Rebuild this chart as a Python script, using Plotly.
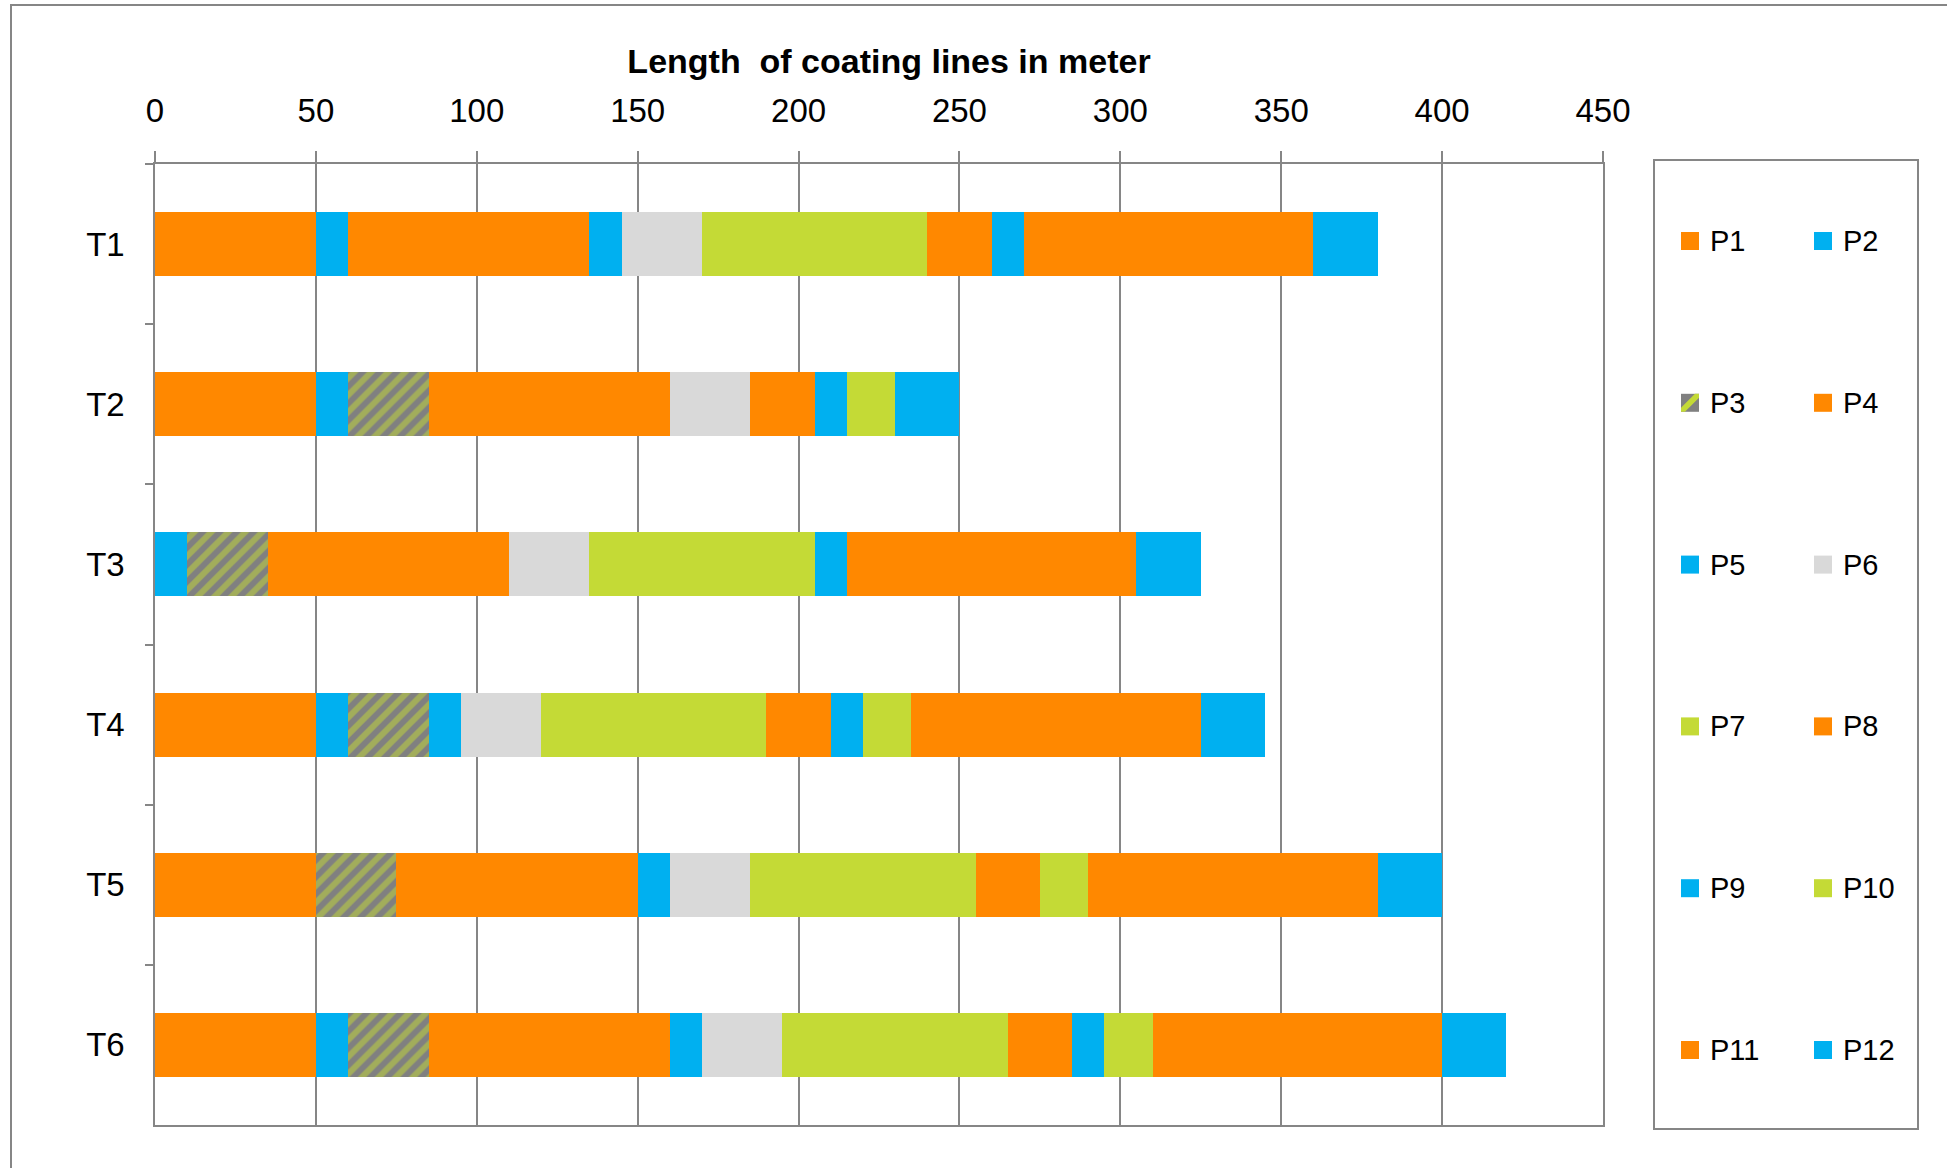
import plotly.graph_objects as go

# Coating line segments per track (metres), stacked left to right P1..P12
tracks = ["T1", "T2", "T3", "T4", "T5", "T6"]
segments = ["P1", "P2", "P3", "P4", "P5", "P6", "P7", "P8", "P9", "P10", "P11", "P12"]

p1 = [50, 50, 0, 50, 50, 50]
p2 = [10, 10, 10, 10, 0, 10]
p3 = [0, 25, 25, 25, 25, 25]
p4 = [75, 75, 75, 0, 75, 75]
p5 = [10, 0, 0, 10, 10, 10]
p6 = [25, 25, 25, 25, 25, 25]
p7 = [70, 0, 70, 70, 70, 70]
p8 = [20, 20, 0, 20, 20, 20]
p9 = [10, 10, 10, 10, 0, 10]
p10 = [0, 15, 0, 15, 15, 15]
p11 = [90, 0, 90, 90, 90, 90]
p12 = [20, 20, 20, 20, 20, 20]
values = [p1, p2, p3, p4, p5, p6, p7, p8, p9, p10, p11, p12]

x_ticks = [0, 50, 100, 150, 200, 250, 300, 350, 400, 450]

ORANGE = "#FF8800"
BLUE = "#00B0F0"
GREY = "#D9D9D9"
GREEN = "#C4DA36"
HATCH = "#808080"
AXIS = "#868686"
colors = [ORANGE, BLUE, None, ORANGE, BLUE, GREY, GREEN, ORANGE, BLUE, GREEN, ORANGE, BLUE]

FONT = "Liberation Sans, Arial, sans-serif"
W, H = 1947, 1168
ML, MR, MT, MB = 155, W - 1603, 164, H - 1125
PW, PH = W - ML - MR, H - MT - MB


def px(x):
    return (x - ML) / PW


def py(y):
    return (H - MB - y) / PH


fig = go.Figure()
for name, vals, col in zip(segments, values, colors):
    if name == "P3":
        marker = dict(color=HATCH, line=dict(width=0),
                      pattern=dict(shape="/", fgcolor=GREEN, bgcolor=HATCH,
                                   size=12, solidity=0.5))
    else:
        marker = dict(color=col, line=dict(width=0))
    fig.add_trace(go.Bar(name=name, y=tracks, x=vals, orientation="h",
                         marker=marker, showlegend=False, hoverinfo="x+name"))

shapes = []
annotations = []

# outer chart frame
shapes.append(dict(type="rect", xref="paper", yref="paper",
                   x0=px(11), x1=px(2100), y0=py(5), y1=py(1300),
                   line=dict(color=AXIS, width=2), fillcolor="rgba(0,0,0,0)", layer="below"))

# legend frame
shapes.append(dict(type="rect", xref="paper", yref="paper",
                   x0=px(1654), x1=px(1918), y0=py(160), y1=py(1129),
                   line=dict(color=AXIS, width=2), fillcolor="white"))

# legend entries, two columns
col_sw = [1681, 1814]
col_tx = [1708, 1841]
row0, row_step, sw = 241, 161.8, 18
for i, (name, col) in enumerate(zip(segments, colors)):
    c, r = i % 2, i // 2
    cy = row0 + r * row_step
    x0, x1 = col_sw[c], col_sw[c] + sw
    y0, y1 = cy - sw / 2, cy + sw / 2
    if name == "P3":
        shapes.append(dict(type="rect", xref="paper", yref="paper",
                           x0=px(x0), x1=px(x1), y0=py(y1), y1=py(y0),
                           line=dict(width=0), fillcolor=HATCH))
        pts = [(0, 0), (0.22, 0), (1, 0.78), (1, 1), (0.78, 1), (0, 0.22)]
        path = "M " + " L ".join(
            f"{px(x0 + a * sw):.5f},{py(y1 - b * sw):.5f}" for a, b in pts) + " Z"
        shapes.append(dict(type="path", xref="paper", yref="paper", path=path,
                           line=dict(width=0), fillcolor=GREEN))
    else:
        shapes.append(dict(type="rect", xref="paper", yref="paper",
                           x0=px(x0), x1=px(x1), y0=py(y1), y1=py(y0),
                           line=dict(width=0), fillcolor=col))
    annotations.append(dict(text=name, xref="paper", yref="paper",
                            x=px(col_tx[c]), y=py(cy), xanchor="left", yanchor="middle",
                            showarrow=False, font=dict(family=FONT, size=29, color="black")))

fig.update_layout(
    width=W, height=H,
    margin=dict(l=ML, r=MR, t=MT, b=MB, pad=0),
    paper_bgcolor="white", plot_bgcolor="white",
    barmode="stack", bargap=0.6,
    title=dict(text="<b>Length\u00a0 of coating lines in meter</b>",
               x=px(889), xref="paper", xanchor="center",
               y=1 - 61 / H, yref="container", yanchor="middle",
               font=dict(family=FONT, size=34, color="black")),
    xaxis=dict(side="top", range=[0, 450], tickvals=x_ticks,
               ticktext=[str(v) for v in x_ticks],
               showgrid=True, gridcolor=AXIS, gridwidth=1.5, zeroline=False,
               showline=True, linecolor=AXIS, linewidth=2, mirror=True,
               ticks="outside", ticklen=11, tickwidth=1.5, tickcolor=AXIS,
               ticklabelstandoff=16,
               tickfont=dict(family=FONT, size=33, color="black")),
    yaxis=dict(categoryorder="array", categoryarray=tracks, autorange="reversed",
               showgrid=False, zeroline=False,
               showline=True, linecolor=AXIS, linewidth=1.5, mirror=True,
               ticks="outside", tickson="boundaries", ticklen=8, tickwidth=1.5,
               tickcolor=AXIS, ticklabelstandoff=22,
               tickfont=dict(family=FONT, size=33, color="black")),
    shapes=shapes,
    annotations=annotations,
    showlegend=False,
)

fig.write_html("out.html")
